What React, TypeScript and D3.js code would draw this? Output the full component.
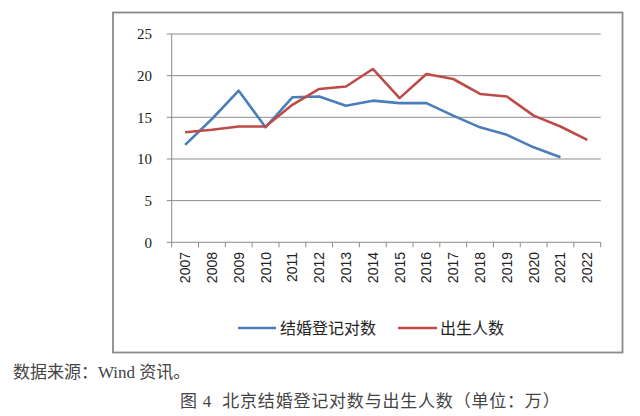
import React from "react";
import * as d3 from "d3";

const years = ["2007","2008","2009","2010","2011","2012","2013","2014","2015","2016","2017","2018","2019","2020","2021","2022"];
const marriage = [11.7, 14.8, 18.2, 13.8, 17.4, 17.5, 16.4, 17.0, 16.7, 16.7, 15.2, 13.8, 12.9, 11.4, 10.2, null];
const births = [13.2, 13.5, 13.9, 13.9, 16.5, 18.4, 18.7, 20.8, 17.3, 20.2, 19.6, 17.8, 17.5, 15.2, 13.9, 12.3];
const yTicks = [0, 5, 10, 15, 20, 25];
const seriesNames = ["结婚登记对数", "出生人数"];
const sourceText = "数据来源：Wind 资讯。";
const captionText = "图 4  北京结婚登记对数与出生人数（单位：万）";

export default function App() {
  const left = 171.7, right = 600.7, top = 34, bottom = 242.3;
  const x = d3.scaleBand<string>().domain(years).range([left, right]).padding(0);
  const y = d3.scaleLinear().domain([0, 25]).range([bottom, top]);
  const cx = (d: string) => (x(d) as number) + x.bandwidth() / 2;
  const line = d3
    .line<[string, number | null]>()
    .defined((d) => d[1] != null)
    .x((d) => cx(d[0]))
    .y((d) => y(d[1] as number));
  const blue = "#4a7ebb";
  const red = "#be4b48";
  const boundaries = years.map((d) => x(d) as number).concat([right]);
  return (
    <svg width={640} height={416} style={{ position: "absolute", left: 0, top: 0, background: "#fff" }}>
      <rect x={113} y={12.5} width={509.5} height={340} fill="#fff" stroke="#8a8a8a" strokeWidth={1.8} />
      {yTicks.map((t) => (
        <g key={t}>
          <line x1={left - 5} x2={right} y1={y(t)} y2={y(t)} stroke="#8c8c8c" strokeWidth={1} />
          <text x={152} y={y(t)} dy="0.35em" textAnchor="end" fontFamily="Liberation Serif" fontSize={15} fill="#222">
            {t}
          </text>
        </g>
      ))}
      <line x1={left} x2={left} y1={top} y2={bottom} stroke="#8c8c8c" strokeWidth={1} />
      {boundaries.map((b, i) => (
        <line key={i} x1={b} x2={b} y1={bottom} y2={bottom + 5} stroke="#8c8c8c" strokeWidth={1} />
      ))}
      {years.map((yr) => (
        <text
          key={yr}
          transform={`translate(${cx(yr) + 5},${252}) rotate(-90)`}
          textAnchor="end"
          fontFamily="Liberation Sans"
          fontSize={14}
          fill="#222"
        >
          {yr}
        </text>
      ))}
      <path d={line(years.map((d, i) => [d, marriage[i]]) as any) || ""} fill="none" stroke={blue} strokeWidth={2.6} strokeLinejoin="round" />
      <path d={line(years.map((d, i) => [d, births[i]]) as any) || ""} fill="none" stroke={red} strokeWidth={2.6} strokeLinejoin="round" />
      <line x1={238} x2={276} y1={328} y2={328} stroke={blue} strokeWidth={2.4} />
      <text x={280} y={328} dy="0.36em" fontFamily="Noto Sans CJK SC" fontSize={16} fill="#222">
        {seriesNames[0]}
      </text>
      <line x1={398} x2={437} y1={328} y2={328} stroke={red} strokeWidth={2.4} />
      <text x={440} y={328} dy="0.36em" fontFamily="Noto Sans CJK SC" fontSize={16} fill="#222">
        {seriesNames[1]}
      </text>
      <text x={13} y={372} dy="0.36em" fontFamily="Liberation Serif, Noto Sans CJK SC" fontSize={17} fill="#444" style={{ whiteSpace: "pre" }}>
        {sourceText}
      </text>
      <text x={180} y={401} dy="0.36em" fontFamily="Liberation Serif, Noto Sans CJK SC" fontSize={17} fill="#444" letterSpacing={0.8} style={{ whiteSpace: "pre" }}>
        {captionText}
      </text>
    </svg>
  );
}
